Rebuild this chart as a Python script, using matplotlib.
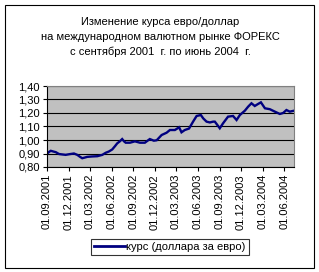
import matplotlib
matplotlib.use("Agg")
import matplotlib.pyplot as plt
import matplotlib.dates as mdates
from matplotlib.patches import Rectangle
from matplotlib.ticker import FuncFormatter
import pandas as pd

plt.rcParams['font.family'] = ['Liberation Sans', 'DejaVu Sans']

dates = [
    "2001-09-01", "2001-09-08", "2001-09-17", "2001-09-27", "2001-10-08", "2001-10-22",
    "2001-11-05", "2001-11-19", "2001-12-05", "2001-12-24", "2002-01-07", "2002-01-19",
    "2002-01-28", "2002-02-08", "2002-02-18", "2002-03-10", "2002-04-02", "2002-04-23",
    "2002-05-07", "2002-05-21", "2002-06-04", "2002-06-16", "2002-06-25", "2002-07-06",
    "2002-07-16", "2002-07-24", "2002-07-31", "2002-08-18", "2002-09-08", "2002-09-29",
    "2002-10-20", "2002-11-10", "2002-11-27", "2002-12-09", "2002-12-30", "2003-01-20",
    "2003-02-03", "2003-02-24", "2003-03-14", "2003-03-24", "2003-04-07", "2003-04-25",
    "2003-05-12", "2003-05-27", "2003-06-14", "2003-06-24", "2003-07-08", "2003-07-22",
    "2003-08-05", "2003-08-12", "2003-08-19", "2003-09-02", "2003-09-16", "2003-10-07",
    "2003-10-28", "2003-11-12", "2003-11-26", "2003-12-17", "2003-12-31", "2004-01-14",
    "2004-01-28", "2004-02-11", "2004-02-23", "2004-03-11", "2004-04-01", "2004-04-22",
    "2004-05-13", "2004-05-27", "2004-06-10", "2004-06-24", "2004-07-12",
]
rate = [
    0.898, 0.910, 0.920, 0.915, 0.910, 0.896,
    0.893, 0.890, 0.895, 0.900, 0.890, 0.875,
    0.865, 0.870, 0.875, 0.878, 0.880, 0.890,
    0.905, 0.915, 0.930, 0.955, 0.975, 0.990,
    1.007, 0.990, 0.980, 0.980, 0.990, 0.980,
    0.980, 1.007, 0.995, 0.998, 1.037, 1.054,
    1.074, 1.074, 1.094, 1.057, 1.074, 1.085,
    1.136, 1.178, 1.185, 1.160, 1.136, 1.130,
    1.136, 1.136, 1.120, 1.087, 1.124, 1.173,
    1.178, 1.148, 1.185, 1.217, 1.247, 1.272,
    1.252, 1.267, 1.279, 1.235, 1.228, 1.210,
    1.193, 1.200, 1.222, 1.210, 1.217,
]
tick_dates = ["2001-09-01", "2001-12-01", "2002-03-01", "2002-06-01", "2002-09-01",
              "2002-12-01", "2003-03-01", "2003-06-01", "2003-09-01", "2003-12-01",
              "2004-03-01", "2004-06-01"]
y_ticks = [0.80, 0.90, 1.00, 1.10, 1.20, 1.30, 1.40]
title_lines = ["Изменение курса евро/доллар",
               "на международном валютном рынке ФОРЕКС",
               "с сентября 2001  г. по июнь 2004  г."]
series_label = "курс (доллара за евро)"

W, H = 319, 272
fig = plt.figure(figsize=(W / 100, H / 100), dpi=100)
fig.patch.set_facecolor("white")

# outer chart border
fig.patches.append(Rectangle((4.5 / W, 1 - 267.5 / H), 309 / W, 263 / H,
                             transform=fig.transFigure, fill=False,
                             edgecolor="black", linewidth=0.8))

ax = fig.add_axes([47 / W, 1 - 167 / H, 247 / W, 81 / H])
ax.set_facecolor("#C0C0C0")

x = pd.to_datetime(dates)
ax.plot(x, rate, color="#000080", linewidth=1.7, solid_joinstyle="miter")

ax.set_xlim(pd.Timestamp(dates[0]), pd.Timestamp(dates[-1]))
ax.set_ylim(y_ticks[0], y_ticks[-1])
ax.set_yticks(y_ticks)
ax.yaxis.set_major_formatter(FuncFormatter(lambda v, p: f"{v:.2f}".replace(".", ",")))
ax.set_xticks(pd.to_datetime(tick_dates))
ax.xaxis.set_major_formatter(mdates.DateFormatter("%d.%m.%Y"))
for lab in ax.get_xticklabels():
    lab.set_rotation(90)

ax.grid(axis="y", color="black", linewidth=0.8)
ax.set_axisbelow(True)
ax.tick_params(axis="both", direction="out", length=3, width=0.8, colors="black",
               labelsize=8, pad=2)
for s in ["top", "right"]:
    ax.spines[s].set_color("#808080")
    ax.spines[s].set_linewidth(0.8)
for s in ["left", "bottom"]:
    ax.spines[s].set_color("black")
    ax.spines[s].set_linewidth(0.8)

for i, line in enumerate(title_lines):
    fig.text(160 / W, 1 - (22 + 15 * i) / H, line, ha="center", va="center",
             fontsize=8)

leg = fig.legend([ax.lines[0]], [series_label], loc="center",
                 bbox_to_anchor=(170 / W, 1 - 247 / H), fontsize=8,
                 frameon=True, fancybox=False, edgecolor="black",
                 handlelength=2.8, handletextpad=0.1, borderpad=0.25,
                 borderaxespad=0)
leg.get_frame().set_linewidth(0.8)
leg.legend_handles[0].set_linewidth(2)

fig.savefig("out.png", dpi=100)
